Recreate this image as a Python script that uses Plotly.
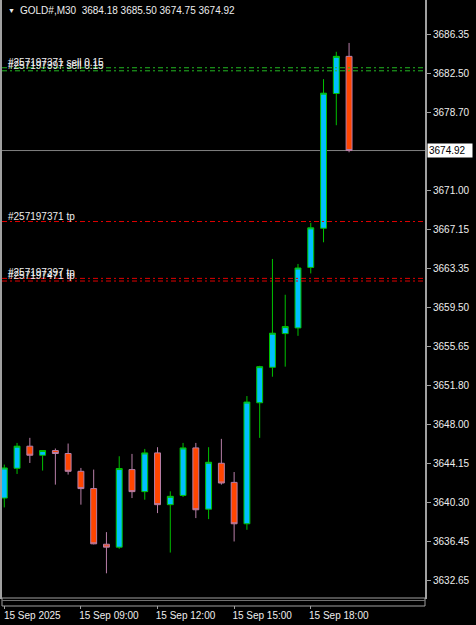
import pandas as pd
import plotly.graph_objects as go

# ---------------- data ----------------
times = pd.date_range("2025-09-15 06:00", periods=28, freq="30min")
opens = [3640.75, 3643.68, 3645.85, 3644.96, 3645.42, 3645.13, 3643.38, 3641.68,
         3636.21, 3635.92, 3643.55, 3641.38, 3645.19, 3640.10, 3641.01, 3645.68,
         3639.66, 3644.17, 3642.29, 3638.22, 3650.12, 3653.61, 3656.92, 3657.48,
         3663.43, 3667.28, 3680.53, 3684.18]
highs = [3644.04, 3646.17, 3646.67, 3645.45, 3645.62, 3646.11, 3643.71, 3643.55,
         3637.40, 3644.86, 3645.09, 3645.58, 3645.75, 3641.41, 3646.17, 3646.17,
         3645.75, 3646.57, 3643.31, 3650.78, 3653.75, 3664.26, 3660.74, 3663.77,
         3667.81, 3681.94, 3684.63, 3685.50]
lows = [3639.83, 3643.12, 3644.20, 3643.45, 3642.07, 3643.06, 3640.10, 3636.20,
        3633.35, 3635.76, 3640.75, 3640.59, 3639.27, 3635.39, 3640.85, 3638.78,
        3638.68, 3642.07, 3636.48, 3637.63, 3646.67, 3652.68, 3653.67, 3656.70,
        3662.84, 3665.90, 3677.41, 3674.75]
closes = [3643.71, 3645.85, 3644.96, 3645.42, 3645.13, 3643.38, 3641.68, 3636.25,
          3635.92, 3643.65, 3641.38, 3645.19, 3640.10, 3640.92, 3645.68, 3639.60,
          3644.27, 3642.23, 3638.22, 3650.19, 3653.67, 3656.96, 3657.61, 3663.37,
          3667.32, 3680.56, 3684.18, 3674.92]

symbol = "GOLD#,M30"
current_price = 3674.92

y_tickvals = [3686.35, 3682.50, 3678.70, 3671.00, 3667.15, 3663.35, 3659.50,
              3655.65, 3651.80, 3648.00, 3644.15, 3640.30, 3636.45, 3632.65]
y_ticktext = [f"{v:.2f}" for v in y_tickvals]

x_tickvals = pd.to_datetime(["2025-09-15 06:00", "2025-09-15 09:00", "2025-09-15 12:00",
                             "2025-09-15 15:00", "2025-09-15 18:00"])
x_ticktext = ["15 Sep 2025", "15 Sep 09:00", "15 Sep 12:00", "15 Sep 15:00", "15 Sep 18:00"]

sell_levels = [3683.06, 3682.76]
sell_labels = ["#257197371 sell 0.15", "#257197397 sell 0.15"]
tp_levels = [3667.94, 3662.35, 3662.09]
tp_labels = ["#257197371 tp", "#257197397 tp", "#257197471 tp"]

# ---------------- style ----------------
FONT = "Liberation Sans, Arial, sans-serif"
TXT = "#EEEEEE"
AX = "#A0A0A0"
W, H = 476, 625
ML, MR, MT, MB = 0, 51, 0, 27
PW, PH = W - ML - MR, H - MT - MB

fig = go.Figure()
fig.add_trace(go.Candlestick(
    x=times, open=opens, high=highs, low=lows, close=closes,
    increasing=dict(fillcolor="#00BFFF", line=dict(color="#00C000", width=1)),
    decreasing=dict(fillcolor="#FF4500", line=dict(color="#B87FA8", width=1)),
    whiskerwidth=0, hoverinfo="skip", showlegend=False,
))

shapes = []
annotations = []

# level lines
for lv, lab in zip(sell_levels, sell_labels):
    shapes.append(dict(type="line", xref="paper", x0=0, x1=1, yref="y", y0=lv, y1=lv,
                       line=dict(color="#22B822", width=1, dash="5px,3px,2px,3px"), layer="above"))
    annotations.append(dict(xref="paper", x=8 / PW, yref="y", y=lv, yanchor="bottom", xanchor="left",
                            text=lab, showarrow=False, yshift=-1, xshift=-3, borderpad=0,
                            font=dict(family=FONT, size=10, color=TXT)))
for lv, lab in zip(tp_levels, tp_labels):
    shapes.append(dict(type="line", xref="paper", x0=0, x1=1, yref="y", y0=lv, y1=lv,
                       line=dict(color="#E00000", width=1, dash="5px,3px,2px,3px"), layer="above"))
    annotations.append(dict(xref="paper", x=8 / PW, yref="y", y=lv, yanchor="bottom", xanchor="left",
                            text=lab, showarrow=False, yshift=-1, xshift=-3, borderpad=0,
                            font=dict(family=FONT, size=10, color=TXT)))

# current price line
shapes.append(dict(type="line", xref="paper", x0=0, x1=1, yref="y", y0=current_price, y1=current_price,
                   line=dict(color="#808080", width=1), layer="below"))
annotations.append(dict(xref="paper", x=1, xanchor="left", xshift=2, yref="y", y=current_price,
                        text=f"{current_price:.2f}", showarrow=False, bgcolor="#FFFFFF",
                        borderpad=1, width=42, align="left",
                        font=dict(family=FONT, size=10, color="#000000")))

# bottom strip below chart
shapes.append(dict(type="rect", xref="paper", x0=0, x1=1, yref="paper", y0=-8 / PH, y1=0,
                   line=dict(color=AX, width=1), fillcolor="#000000", layer="above"))
shapes.append(dict(type="line", xref="paper", x0=0, x1=1, yref="paper", y0=-2.5 / PH, y1=-2.5 / PH,
                   line=dict(color="#707070", width=1), layer="above"))

# title
annotations.append(dict(xref="paper", x=4 / PW, xanchor="left", yref="paper", y=1, yanchor="top",
                        yshift=-5, text="▼", showarrow=False,
                        font=dict(family=FONT, size=7, color=TXT)))
annotations.append(dict(xref="paper", x=16 / PW, xanchor="left", yref="paper", y=1, yanchor="top",
                        yshift=-3,
                        text=f"{symbol}  " + " ".join(f"{v:.2f}" for v in
                                                     [opens[-1], highs[-1], lows[-1], closes[-1]]),
                        showarrow=False, font=dict(family=FONT, size=10, color=TXT)))

# x range: first candle centre 2.3 px from left edge, 12.83 px per 30 min
px_per_min = 12.83 / 30
x0 = times[0] - pd.Timedelta(minutes=2.3 / px_per_min)
x1 = x0 + pd.Timedelta(minutes=PW / px_per_min)

px_per_unit = 10.17
y_top = 3686.35 + 34.3 / px_per_unit
y_bot = y_top - PH / px_per_unit

fig.update_layout(
    width=W, height=H,
    margin=dict(l=ML, r=MR, t=MT, b=MB, pad=0),
    paper_bgcolor="#000000", plot_bgcolor="#000000",
    boxgap=0.34,
    shapes=shapes, annotations=annotations,
    showlegend=False,
    xaxis=dict(range=[x0, x1], rangeslider=dict(visible=False), showgrid=False, zeroline=False,
               tickvals=x_tickvals, ticktext=x_ticktext, ticks="outside", ticklen=10,
               tickcolor=AX, tickwidth=1, showline=True, linecolor=AX, linewidth=1,
               ticklabelshift=28, ticklabelstandoff=-2,
               tickfont=dict(family=FONT, size=10, color=TXT), fixedrange=True),
    yaxis=dict(range=[y_bot, y_top], side="right", showgrid=False, zeroline=False,
               tickvals=y_tickvals, ticktext=y_ticktext, ticks="outside", ticklen=4,
               tickcolor=AX, tickwidth=1, showline=True, linecolor=AX, linewidth=2, mirror=True,
               tickfont=dict(family=FONT, size=10, color=TXT), fixedrange=True),
)

fig.write_html("out.html")
